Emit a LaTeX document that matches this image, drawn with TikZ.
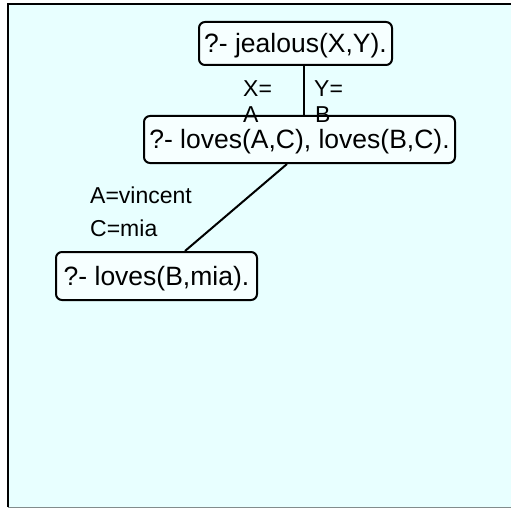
\documentclass[tikz,border=0pt]{standalone}
\usepackage{fontspec}
\setmainfont{Liberation Sans}
\definecolor{paper}{RGB}{232,255,255}
\definecolor{boxfill}{RGB}{246,255,255}
\definecolor{edgegray}{RGB}{130,140,140}
\begin{document}
\begin{tikzpicture}[x=1pt,y=-1pt,
  goal/.style={draw=black, line width=2pt, rounded corners=6pt, fill=boxfill,
    inner sep=0pt, text height=19pt, text depth=0pt,
    font=\fontsize{26.5}{30}\selectfont},
  subst/.style={anchor=base west, inner sep=0pt, font=\fontsize{23}{27}\selectfont},
  edge/.style={line width=2pt}]
  \useasboundingbox (0,0) rectangle (511,508);
  % sheet
  \fill[paper] (8,4) rectangle (511,507);
  \draw[edgegray, line width=1pt] (8,507.5) -- (511,507.5);
  \draw[black, line width=2pt] (8,507) -- (8,4) -- (511,4);

  % goals
  \node[goal, minimum width=193pt, minimum height=43pt] (top) at (295.5,43.5) {?- jealous(X,Y).};
  \node[goal, minimum width=311pt, minimum height=47pt] (mid) at (299.5,139.5) {?- loves(A,C), loves(B,C).};
  \node[goal, minimum width=201pt, minimum height=48pt] (bot) at (156.5,276) {?- loves(B,mia).};

  % resolution steps
  \coordinate (v) at (304,0);
  \draw[edge] (top.south -| v) -- (mid.north -| v);
  \draw[edge] ([xshift=-12.5pt]mid.south) -- ([xshift=28.5pt]bot.north);

  % substitutions
  \node[subst] (sx) at (243,97) {X=};
  \node[subst] (sa) at (243,123) {A};
  \node[subst] (sy) at (314,97) {Y=};
  \node[subst] (sb) at (315,123) {B};
  \node[subst] (sv) at (90,203) {A=vincent};
  \node[subst] (sm) at (90,236) {C=mia};
\end{tikzpicture}
\end{document}
